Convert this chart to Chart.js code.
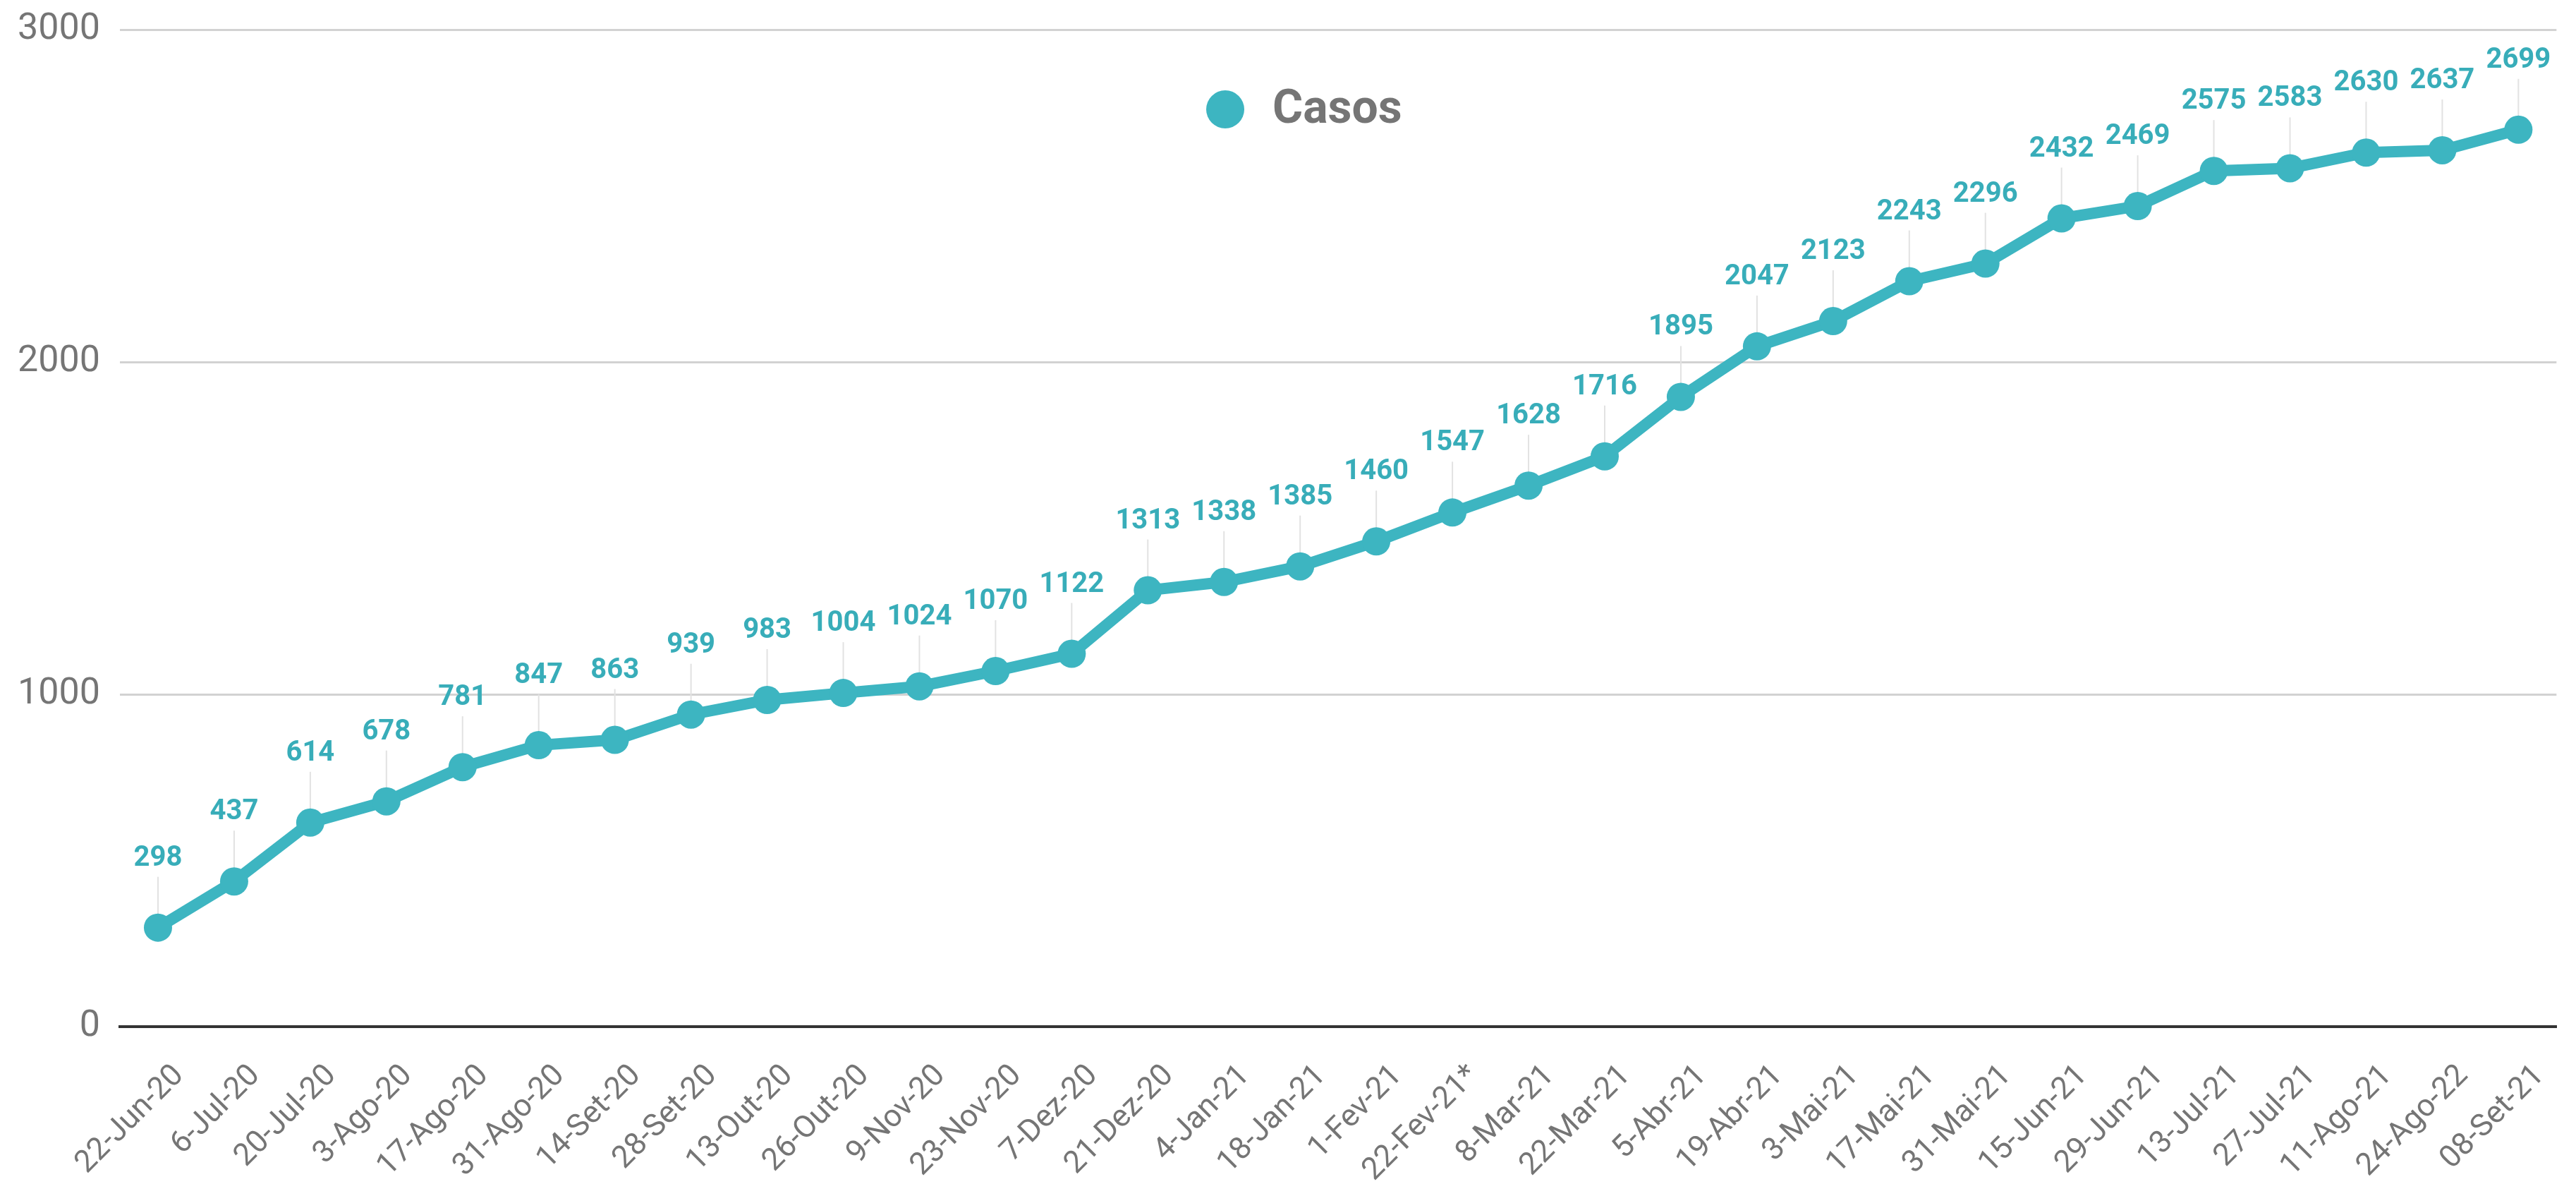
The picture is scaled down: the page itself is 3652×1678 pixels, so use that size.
<!DOCTYPE html>
<html lang="pt">
<head>
<meta charset="utf-8">
<title>Casos</title>
<script src="https://cdn.jsdelivr.net/npm/chart.js@4.4.1/dist/chart.umd.min.js"></script>
<style>
    html, body { margin: 0; padding: 0; background: #ffffff; }
    #contenedor { width: 3652px; height: 1678px; position: relative; }
</style>
</head>
<body>
<div id="contenedor">
    <canvas id="casosChart"></canvas>
</div>
<script>
// Datos del gráfico
const fechas = [
    '22-Jun-20', '6-Jul-20', '20-Jul-20', '3-Ago-20', '17-Ago-20', '31-Ago-20',
    '14-Set-20', '28-Set-20', '13-Out-20', '26-Out-20', '9-Nov-20', '23-Nov-20',
    '7-Dez-20', '21-Dez-20', '4-Jan-21', '18-Jan-21', '1-Fev-21', '22-Fev-21*',
    '8-Mar-21', '22-Mar-21', '5-Abr-21', '19-Abr-21', '3-Mai-21', '17-Mai-21',
    '31-Mai-21', '15-Jun-21', '29-Jun-21', '13-Jul-21', '27-Jul-21', '11-Ago-21',
    '24-Ago-22', '08-Set-21'
];
const casos = [
    298, 437, 614, 678, 781, 847, 863, 939, 983, 1004, 1024, 1070,
    1122, 1313, 1338, 1385, 1460, 1547, 1628, 1716, 1895, 2047, 2123, 2243,
    2296, 2432, 2469, 2575, 2583, 2630, 2637, 2699
];
const nombreSerie = 'Casos';
const ticksY = [0, 1000, 2000, 3000];

const colorLinea = '#3db5c1';
const colorEtiqueta = '#38adb9';
const colorTexto = '#757575';

// Líneas guía grises detrás de los puntos
const pluginGuias = {
    id: 'guias',
    beforeDatasetsDraw(chart) {
        const ctx = chart.ctx;
        const meta = chart.getDatasetMeta(0);
        ctx.save();
        ctx.strokeStyle = '#e2e2e2';
        ctx.lineWidth = 2;
        meta.data.forEach(punto => {
            ctx.beginPath();
            ctx.moveTo(punto.x, punto.y - 72);
            ctx.lineTo(punto.x, punto.y);
            ctx.stroke();
        });
        ctx.restore();
    }
};

// Etiquetas con el valor encima de cada punto
const pluginEtiquetas = {
    id: 'etiquetas',
    afterDatasetsDraw(chart) {
        const ctx = chart.ctx;
        const meta = chart.getDatasetMeta(0);
        const valores = chart.data.datasets[0].data;
        ctx.save();
        ctx.fillStyle = colorEtiqueta;
        ctx.font = 'bold 40px Roboto, "Liberation Sans", sans-serif';
        ctx.textAlign = 'center';
        ctx.textBaseline = 'middle';
        meta.data.forEach((punto, i) => {
            ctx.fillText(String(valores[i]), punto.x, punto.y - 98);
        });
        ctx.restore();
    }
};

// Leyenda dentro del área del gráfico
const pluginLeyenda = {
    id: 'leyendaInterna',
    afterDraw(chart) {
        const ctx = chart.ctx;
        const area = chart.chartArea;
        const radio = 27;
        const espacio = 40;
        ctx.save();
        ctx.font = 'bold 66px Roboto, "Liberation Sans", sans-serif';
        const anchoTexto = ctx.measureText(nombreSerie).width;
        const total = radio * 2 + espacio + anchoTexto;
        const centroX = area.left + (area.right - area.left) * 0.486;
        const y = area.top + 113;
        const x0 = centroX - total / 2;

        ctx.fillStyle = colorLinea;
        ctx.beginPath();
        ctx.arc(x0 + radio, y, radio, 0, Math.PI * 2);
        ctx.fill();

        ctx.fillStyle = colorTexto;
        ctx.textAlign = 'left';
        ctx.textBaseline = 'middle';
        ctx.fillText(nombreSerie, x0 + radio * 2 + espacio, y + 2);
        ctx.restore();
    }
};

function crearGraficoCasos() {
    const ctx = document.getElementById('casosChart').getContext('2d');

    new Chart(ctx, {
        type: 'line',
        data: {
            labels: fechas,
            datasets: [{
                label: nombreSerie,
                data: casos,
                borderColor: colorLinea,
                backgroundColor: colorLinea,
                borderWidth: 16,
                pointRadius: 20,
                pointHoverRadius: 20,
                pointBackgroundColor: colorLinea,
                pointBorderWidth: 0,
                tension: 0,
                fill: false
            }]
        },
        options: {
            responsive: true,
            maintainAspectRatio: false,
            animation: false,
            devicePixelRatio: 1,
            layout: {
                padding: { top: 42, right: 2, left: 0, bottom: 0 }
            },
            plugins: {
                legend: { display: false },
                tooltip: { enabled: false }
            },
            scales: {
                x: {
                    offset: true,
                    afterFit: scale => { scale.height = 223; },
                    grid: { display: false, drawTicks: false },
                    border: { display: true, color: '#333333', width: 4 },
                    ticks: {
                        color: colorTexto,
                        font: { family: 'Roboto, "Liberation Sans", sans-serif', size: 44 },
                        minRotation: 45,
                        maxRotation: 45,
                        autoSkip: false,
                        padding: 44,
                        labelOffset: 30
                    }
                },
                y: {
                    min: 0,
                    max: 3000,
                    afterFit: scale => {
                        scale.width = 170;
                        scale.paddingTop = 0;
                        scale.paddingBottom = 0;
                    },
                    afterBuildTicks: scale => {
                        scale.ticks = ticksY.map(v => ({ value: v }));
                    },
                    grid: {
                        drawTicks: false,
                        color: c => c.tick.value === 0 ? '#333333' : '#d2d2d2',
                        lineWidth: c => c.tick.value === 0 ? 4 : 3
                    },
                    border: { display: false },
                    ticks: {
                        color: colorTexto,
                        font: { family: 'Roboto, "Liberation Sans", sans-serif', size: 52 },
                        padding: 28,
                        callback: valor => String(valor)
                    }
                }
            }
        },
        plugins: [pluginGuias, pluginEtiquetas, pluginLeyenda]
    });
}

document.addEventListener('DOMContentLoaded', crearGraficoCasos);
</script>
</body>
</html>
